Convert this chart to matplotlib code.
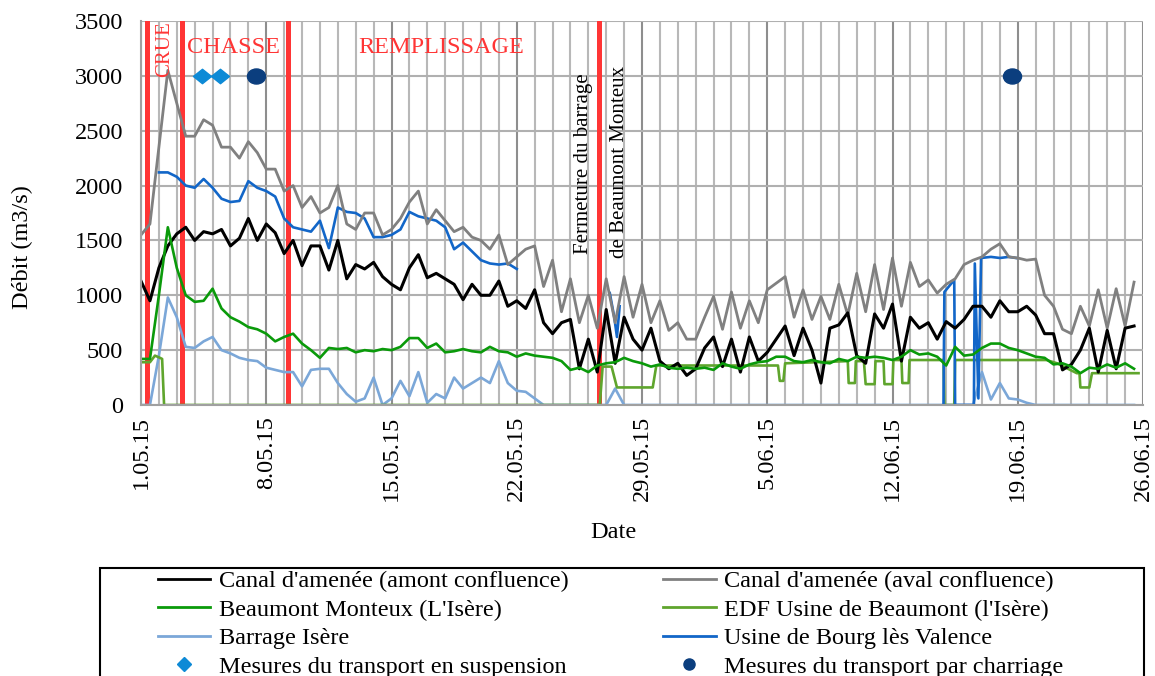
import numpy as np
import matplotlib.pyplot as plt
from matplotlib.lines import Line2D
from matplotlib.patches import Rectangle
from matplotlib.path import Path

plt.rcParams['font.family'] = ['Liberation Serif', 'DejaVu Serif']
plt.rcParams['font.size'] = 17.5

nan = float('nan')

# x axis = days since 1.05.15 ; main series read every 12 h
tick_days = [0, 7, 14, 21, 28, 35, 42, 49, 56]
tick_labels = ["1.05.15", "8.05.15", "15.05.15", "22.05.15", "29.05.15",
               "5.06.15", "12.06.15", "19.06.15", "26.06.15"]

canal_aval = [1550, 1650, 2350, 3050, 2750, 2450, 2450, 2600, 2550, 2350,
              2350, 2250, 2400, 2300, 2150, 2150, 1950, 2000, 1800, 1900,
              1750, 1800, 2000, 1650, 1600, 1750, 1750, 1550, 1600, 1700,
              1850, 1950, 1650, 1780, 1680, 1580, 1620, 1530, 1500, 1420,
              1550, 1280, 1350, 1420, 1450, 1080, 1320, 850, 1150, 750,
              1000, 700, 1150, 750, 1170, 800, 1100, 750, 950, 680,
              750, 600, 600, 800, 990, 690, 1030, 700, 950, 750,
              1050, 1110, 1170, 800, 1050, 780, 990, 780, 1100, 820,
              1200, 850, 1280, 870, 1340, 900, 1300, 1080, 1140, 1020,
              1100, 1150, 1280, 1320, 1350, 1420, 1470, 1350, 1340, 1320,
              1330, 1000, 900, 690, 650, 900, 720, 1050, 700, 1060,
              720, 1120]

canal_amont = [1130, 950, 1250, 1450, 1560, 1620, 1500, 1580, 1560, 1600,
               1450, 1520, 1700, 1500, 1650, 1570, 1380, 1500, 1270, 1450,
               1450, 1230, 1500, 1150, 1280, 1240, 1300, 1170, 1100, 1050,
               1250, 1370, 1160, 1200, 1150, 1100, 960, 1100, 1000, 1000,
               1130, 900, 950, 880, 1050, 750, 650, 750, 780, 330,
               600, 300, 870, 380, 800, 600, 500, 700, 400, 330,
               380, 270, 330, 520, 620, 350, 600, 300, 620, 400,
               480, 600, 720, 450, 700, 500, 200, 700, 730, 840,
               450, 380, 830, 700, 920, 400, 800, 700, 750, 600,
               760, 700, 780, 900, 900, 800, 950, 850, 850, 900,
               820, 650, 650, 320, 370, 500, 700, 300, 680, 330,
               700, 720]

beaumont_monteux = [420, 420, 1000, 1620, 1250, 1000, 940, 950, 1060, 880,
                    800, 760, 710, 690, 650, 580, 620, 650, 560, 500,
                    430, 520, 510, 520, 480, 500, 490, 510, 500, 530,
                    610, 610, 520, 560, 480, 490, 510, 490, 480, 530,
                    490, 480, 440, 470, 450, 440, 430, 400, 320, 340,
                    300, 360, 380, 390, 430, 400, 380, 350, 370, 340,
                    330, 340, 330, 340, 320, 380, 350, 330, 370, 390,
                    400, 440, 440, 400, 390, 410, 390, 380, 420, 400,
                    440, 430, 440, 430, 410, 440, 500, 460, 470, 440,
                    360, 530, 450, 460, 520, 560, 560, 520, 500, 470,
                    440, 430, 370, 380, 350, 290, 340, 330, 370, 340,
                    380, 330]

barrage_isere = [0, 0, 450, 980, 800, 530, 520, 580, 620, 500,
                 470, 430, 410, 400, 340, 320, 300, 300, 170, 320,
                 330, 330, 200, 100, 30, 60, 250, 0, 60, 220,
                 80, 300, 20, 100, 60, 250, 150, 200, 250, 200,
                 400, 200, 130, 120, 60, 0, 0, 0, 0, 0,
                 0, 0, 0, 150, 0, 0, 0, 0, 0, 0,
                 0, 0, 0, 0, 0, 0, 0, 0, 0, 0,
                 0, 0, 0, 0, 0, 0, 0, 0, 0, 0,
                 0, 0, 0, 0, 0, 0, 0, 0, 0, 0,
                 0, 0, 0, 0, 300, 50, 200, 60, 50, 20,
                 0, 0, 0, 0, 0, 0, 0, 0, 0, 0,
                 0, 0]

# Usine de Bourg lès Valence, 2.05 -> 22.05 every 12 h, then isolated pieces
bourg_may = [2120, 2120, 2080, 2000, 1980, 2060, 1980, 1880, 1850, 1860,
             2040, 1980, 1950, 1900, 1700, 1620, 1600, 1580,
             1680, 1430, 1800, 1760, 1750, 1700, 1530, 1530, 1550, 1600,
             1760, 1720, 1700, 1680, 1620, 1420, 1480, 1400, 1320, 1290,
             1280, 1290, 1240]
bourg_late_days = [26.2, 26.45, 26.6, 26.75, nan,
                   44.85, 44.9, 45.45, 45.5, 46.55, 46.6, 46.8, 46.95,
                   47.5, 48.0, 48.5, 48.9]
bourg_late = [1020, 800, 620, 900, nan,
              0, 1030, 1140, 0, 0, 1290, 60, 1340,
              1350, 1340, 1350, 1340]

# EDF Usine de Beaumont, step-like -> break points
edf_days = [0, 0.5, 0.78, 1.06, 1.18, 1.29, 25.64, 25.8, 26.3, 26.6, 28.6,
            28.8, 35.6, 35.7, 35.9, 36.0, 39.5, 39.55, 39.9, 39.95, 40.4,
            40.5, 41.0, 41.05, 41.5, 41.55, 42.0, 42.05, 42.5, 42.55, 42.9,
            42.95, 44.85, 44.9, 45.45, 45.5, 50.6, 51.2, 52.3, 52.45, 52.5,
            53.0, 53.15, 55.75]
edf_beaumont = [390, 390, 450, 430, 420, 0, 0, 350, 350, 160, 160,
                360, 360, 220, 220, 380, 400, 200, 200, 400, 400,
                190, 190, 400, 400, 190, 190, 410, 410, 200, 200,
                410, 410, 0, 0, 410, 410, 380, 290, 290, 160,
                160, 290, 290]

susp_days = [3.42, 4.42]
susp_q = [3000, 3000]
charriage_days = [6.45, 48.7]
charriage_q = [3000, 3000]

event_days = [0.35, 2.3, 8.2, 25.6]

days = np.arange(len(canal_aval)) * 0.5
bourg_days = 1 + np.arange(len(bourg_may)) * 0.5

c_black = '#000000'
c_grey = '#808080'
c_green = '#0a9a0a'
c_olive = '#5fa52d'
c_lblue = '#7ba7d8'
c_blue = '#1266c8'
c_red = '#ff3535'

fig = plt.figure(figsize=(11.55, 6.76), dpi=100)
ax = fig.add_axes([141 / 1155, 1 - 405 / 676, 1002 / 1155, 384 / 676])

for d in event_days:
    ax.axvline(d, color=c_red, lw=3.6, zorder=1.5)

ax.plot(days, barrage_isere, color=c_lblue, lw=1.9, zorder=2)
ax.plot(edf_days, edf_beaumont, color=c_olive, lw=1.9, zorder=2.1)
ax.plot(bourg_days, bourg_may, color=c_blue, lw=1.9, zorder=2.2)
ax.plot(bourg_late_days, bourg_late, color=c_blue, lw=1.9, zorder=2.2)
ax.plot(days, canal_aval, color=c_grey, lw=2.0, zorder=2.3)
ax.plot(days, canal_amont, color=c_black, lw=2.2, zorder=2.4)
ax.plot(days, beaumont_monteux, color=c_green, lw=1.9, zorder=2.5)

diamond = Path([(-1.25, 0), (0, 1), (1.25, 0), (0, -1), (-1.25, 0)], closed=True)
circ = Path.unit_circle()
ellipse = Path(circ.vertices * [1.2, 1.0], circ.codes)
ax.plot(susp_days, susp_q, ls='none', marker=diamond, ms=13, color='#0d8ad6', zorder=3)
ax.plot(charriage_days, charriage_q, ls='none', marker=ellipse, ms=13, color='#0b3e7e', zorder=3)

ax.text(1.34, 3245, 'CRUE', color=c_red, rotation=90, ha='center', va='center', fontsize=15)
ax.text(5.15, 3263, 'CHASSE', color=c_red, ha='center', va='center')
ax.text(16.8, 3263, 'REMPLISSAGE', color=c_red, ha='center', va='center')
ax.text(24.75, 2197, 'Fermeture du barrage', rotation=90, ha='center', va='center', fontsize=15)
ax.text(26.77, 2215, 'de Beaumont Monteux', rotation=90, ha='center', va='center', fontsize=15)

ax.set_xlim(0, 56)
ax.set_ylim(0, 3500)
ax.set_xticks(tick_days)
ax.set_xticklabels(tick_labels, rotation=90)
ax.set_xticks(range(0, 57), minor=True)
ax.set_yticks(range(0, 3501, 500))
ax.tick_params(axis='x', which='both', length=0, pad=8)
ax.tick_params(axis='y', length=0, pad=13)
ax.grid(which='minor', axis='x', color='#b8b8b8', lw=1.5, zorder=0)
ax.grid(which='major', axis='x', color='#8e8e8e', lw=1.5, zorder=0)
ax.grid(which='major', axis='y', color='#b0b0b0', lw=1.5, zorder=0)
ax.set_axisbelow(True)
for s in ['top', 'right']:
    ax.spines[s].set_visible(False)
for s in ['left', 'bottom']:
    ax.spines[s].set_color('#a0a0a0')
    ax.spines[s].set_linewidth(1.5)

fig.text(22 / 1155, 1 - 247 / 676, 'Débit (m3/s)', rotation=90, ha='center', va='center')
fig.text(613 / 1155, 1 - 532 / 676, 'Date', ha='center', va='center')

handles = [
    Line2D([], [], color=c_black, lw=2),
    Line2D([], [], color=c_green, lw=2),
    Line2D([], [], color=c_lblue, lw=2),
    Line2D([], [], ls='none', marker='D', ms=7, color='#0d8ad6'),
    Line2D([], [], color=c_grey, lw=2),
    Line2D([], [], color=c_olive, lw=2),
    Line2D([], [], color=c_blue, lw=2),
    Line2D([], [], ls='none', marker='o', ms=8, color='#0b3e7e'),
]
labels = ["Canal d'amenée (amont confluence)", "Beaumont Monteux (L'Isère)",
          "Barrage Isère", "Mesures du transport en suspension",
          "Canal d'amenée (aval confluence)", "EDF Usine de Beaumont (l'Isère)",
          "Usine de Bourg lès Valence", "Mesures du transport par charriage"]
fig.legend(handles, labels, ncol=2, loc='upper left',
           bbox_to_anchor=(158 / 1155, 1 - 570 / 676), frameon=False,
           handlelength=2.15, handletextpad=0.35, columnspacing=3.9,
           labelspacing=0.27, borderpad=0, borderaxespad=0)
fig.add_artist(Rectangle((100 / 1155, -0.05), 1044 / 1155, 0.05 + 1 - 568 / 676,
                         transform=fig.transFigure, fill=False,
                         edgecolor='black', lw=1.5))

fig.savefig('out.png', dpi=100)
